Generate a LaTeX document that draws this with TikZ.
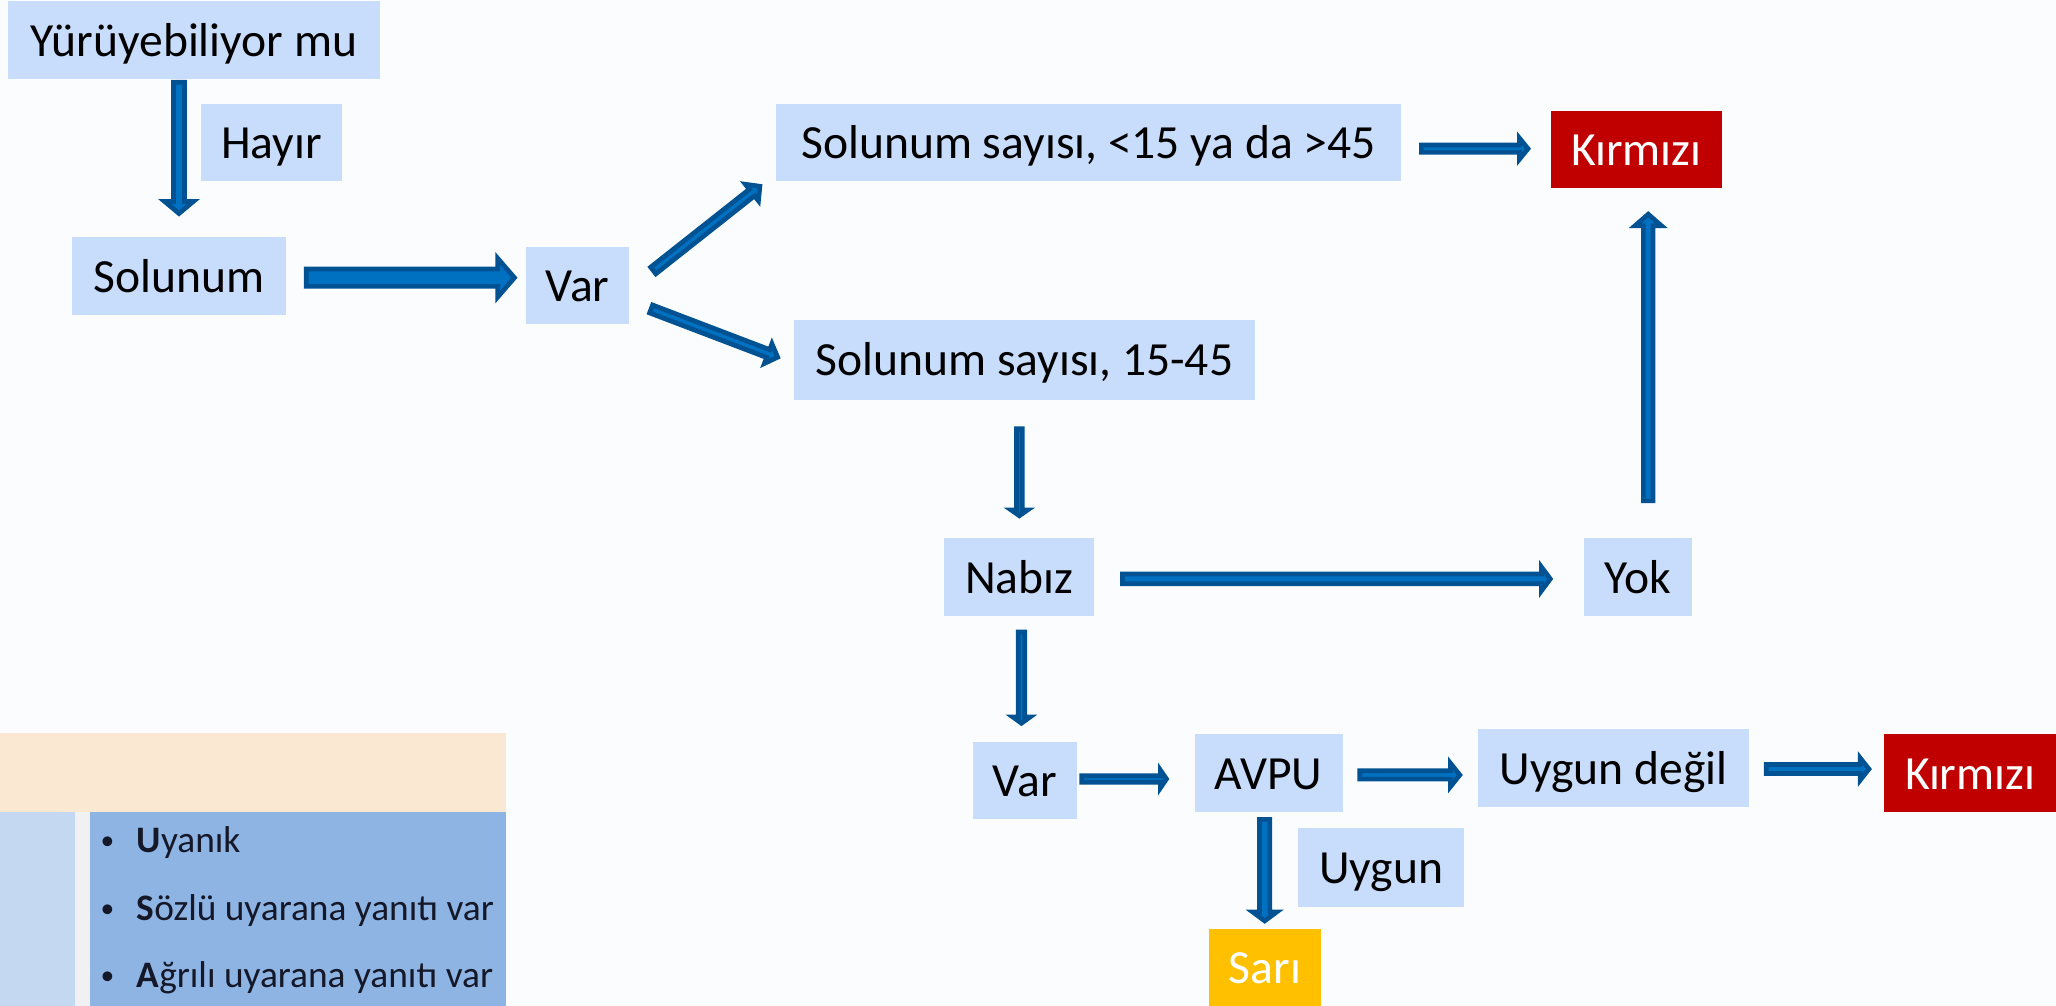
\documentclass[tikz,border=0pt]{standalone}
\usepackage{fontspec}
\setmainfont{Carlito}
\usetikzlibrary{calc}
\definecolor{boxblue}{RGB}{200,220,252}
\definecolor{kred}{RGB}{192,0,0}
\definecolor{kyel}{RGB}{255,192,0}
\definecolor{arrdark}{RGB}{0,82,147}
\definecolor{arrfill}{RGB}{0,112,192}
\definecolor{peach}{RGB}{251,232,211}
\definecolor{lblue}{RGB}{197,216,241}
\definecolor{mblue}{RGB}{142,180,227}
\definecolor{gapgrey}{RGB}{240,241,243}
\definecolor{bgc}{RGB}{251,252,254}
\definecolor{bultext}{RGB}{20,24,40}
\newcommand\blockarr[5]{%
  \path let \p1=(#1), \p2=(#2) in \pgfextra{%
    \pgfmathsetmacro\bang{atan2((\y2)-(\y1),(\x2)-(\x1))}%
    \pgfmathsetmacro\blen{veclen((\x2)-(\x1),(\y2)-(\y1))}%
    \xdef\bang{\bang}\xdef\blen{\blen}\xdef\bx{\x1}\xdef\by{\y1}};
  \begin{scope}[shift={(\bx,\by)}, rotate=\bang]
    \draw[arr] (1.8,-#3+1.8) -- (\blen-#5+1.8,-#3+1.8) -- (\blen-#5+1.8,-#4+2.5)
      -- (\blen-2.5,0) -- (\blen-#5+1.8,#4-2.5) -- (\blen-#5+1.8,#3-1.8)
      -- (1.8,#3-1.8) -- cycle;
  \end{scope}}
\begin{document}
\begin{tikzpicture}[x=1pt,y=-1pt,
  box/.style={fill=boxblue, inner sep=0pt, text height=30pt, text depth=5.5pt, font=\fontsize{36.3}{40}\selectfont},
  redbox/.style={box, fill=kred, text=white},
  yelbox/.style={box, fill=kyel, text=white},
  arr/.style={draw=arrdark, fill=arrfill, line width=3.6pt},
  bul/.style={anchor=base west, inner sep=0pt, text=bultext, font=\fontsize{28.5}{32}\selectfont},
  dot/.style={anchor=base, inner sep=0pt, text=bultext, font=\fontsize{21}{24}\selectfont},
]
\useasboundingbox (0,0) rectangle (1568,767);
\fill[bgc] (0,0) rectangle (1568,767);

% nodes
\node[box, minimum width=284pt, minimum height=59.5pt] (yuru) at (148,30.5) {Yürüyebiliyor mu};
\node[box, minimum width=107.5pt, minimum height=59pt] (hayir) at (207,108.5) {Hayır};
\node[box, minimum width=163pt, minimum height=59pt] (solunum) at (136.5,210.5) {Solunum};
\node[box, minimum width=79pt, minimum height=59pt] (var1) at (440.5,217.5) {Var};
\node[box, minimum width=476.5pt, minimum height=59pt] (up) at (830.25,108.5) {Solunum sayısı, <15 ya da >45};
\node[box, minimum width=351.5pt, minimum height=61pt] (low) at (781.25,274.5) {Solunum sayısı, 15-45};
\node[redbox, minimum width=130pt, minimum height=59pt] (kir1) at (1248,114.2) {Kırmızı};
\node[box, minimum width=114.5pt, minimum height=60pt] (nabiz) at (777.25,440) {Nabız};
\node[box, minimum width=82pt, minimum height=60pt] (yok) at (1249,440) {Yok};
\node[box, minimum width=79pt, minimum height=58.5pt] (var2) at (781.5,595.5) {Var};
\node[box, minimum width=113pt, minimum height=59pt] (avpu) at (967.5,589.5) {AVPU};
\node[box, minimum width=207pt, minimum height=59.5pt] (ud) at (1230.5,585.75) {Uygun değil};
\node[redbox, minimum width=131pt, minimum height=59pt] (kir2) at (1502.5,589.5) {Kırmızı};
\node[box, minimum width=126.5pt, minimum height=60pt] (uygun) at (1053.25,661.5) {Uygun};
\node[yelbox, minimum width=85.5pt, minimum height=58.5pt] (sari) at (964.75,738) {Sarı};

% arrows
\blockarr{$(yuru.south -| solunum.north)+(0,0.5)$}{$(solunum.north)+(0,-15.5)$}{6}{13.5}{13.5}
\blockarr{$(solunum.east)+(13.5,1.3)$}{$(var1.west)+(-6,-5.7)$}{8.4}{17.2}{17}
\blockarr{$(var1.east)+(16.6,-10.1)$}{$(up.south west)+(-10.3,2.3)$}{5}{10.5}{12}
\blockarr{$(var1.east)+(14.7,17.5)$}{$(low.west)+(-9.9,-1.2)$}{5}{10.5}{12}
\blockarr{$(up.east)+(13.5,4.9)$}{$(kir1.west)+(-15,-0.8)$}{4.6}{10.4}{10.7}
\blockarr{$(low.south)+(-3.85,20)$}{$(nabiz.north)+(0.15,-14)$}{4}{8.8}{8.7}
\blockarr{$(nabiz.east)+(19.5,1.5)$}{$(yok.west)+(-23,1.5)$}{5.5}{11.5}{11}
\blockarr{$(yok.north)+(8,-26)$}{$(kir1.south)+(9,17)$}{5.5}{12.5}{13}
\blockarr{$(nabiz.south)+(1.75,10)$}{$(var2.north)+(-2.5,-12)$}{4.3}{9}{9}
\blockarr{$(var2.east)+(2,-1.4)$}{$(avpu.west)+(-18.7,4.6)$}{4.3}{9.2}{8.9}
\blockarr{$(avpu.east)+(11,1.5)$}{$(ud.west)+(-11,5.25)$}{5}{11.5}{11.5}
\blockarr{$(ud.east)+(11,0.75)$}{$(kir2.west)+(-9,-3)$}{5.2}{11}{11}
\blockarr{$(avpu.south)+(-3,4)$}{$(sari.north)+(-0.25,-3.75)$}{5.75}{11.5}{11}

% AVPU panel
\fill[peach] (0,559) rectangle (386,619);
\fill[lblue] (0,619) rectangle (57,767);
\fill[gapgrey] (57,619) rectangle (69,767);
\fill[mblue] (69,619) rectangle (386,767);
\node[dot] (d1) at (82,648) {•};
\node[dot] (d2) at (82,700) {•};
\node[dot] (d3) at (82,751) {•};
\node[bul] (b1) at (104,650) {\textbf{U}yanık};
\node[bul] (b2) at (104,702) {\textbf{S}özlü uyarana yanıtı var};
\node[bul] (b3) at (104,753) {\textbf{A}ğrılı uyarana yanıtı var};
\end{tikzpicture}
\end{document}
